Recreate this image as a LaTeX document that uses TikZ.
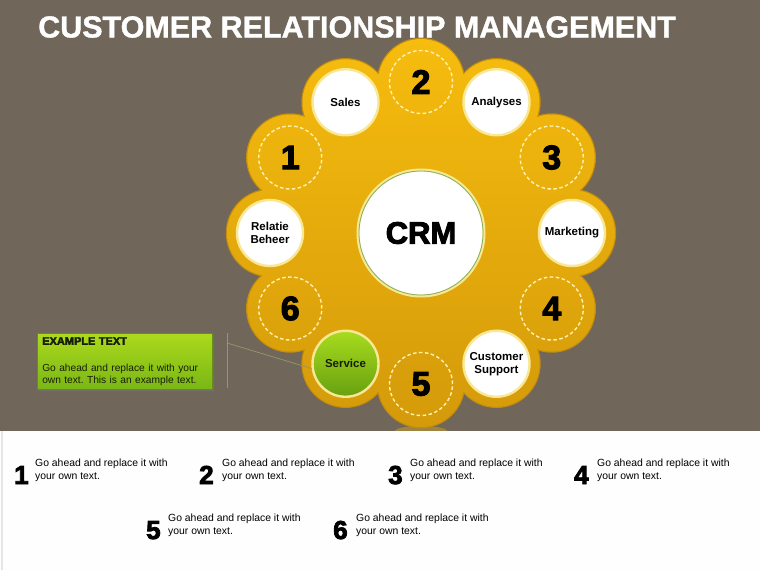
\documentclass[tikz,border=0pt]{standalone}
\usepackage{fontspec}
\setmainfont{Liberation Sans}
\newfontfamily\heavyfont{Liberation Sans Bold}[FakeBold=3]
\newfontfamily\titlefont{Liberation Sans Bold}[FakeBold=1.2]
\frenchspacing
\usetikzlibrary{positioning,calc,shadows}
\definecolor{bgbrown}{RGB}{112,102,90}
\definecolor{goldtop}{RGB}{246,188,14}
\definecolor{goldbot}{RGB}{212,154,10}
\definecolor{goldedge}{RGB}{196,140,14}
\definecolor{ringyel}{RGB}{248,232,150}
\definecolor{dashyel}{RGB}{255,242,175}
\definecolor{crmgreen}{RGB}{130,175,90}
\definecolor{leaftop}{RGB}{168,220,30}
\definecolor{leafbot}{RGB}{104,160,16}
\definecolor{boxtop}{RGB}{172,218,28}
\definecolor{boxbot}{RGB}{122,182,22}
\definecolor{boxedge}{RGB}{100,142,22}
\definecolor{calloutln}{RGB}{150,152,105}
\definecolor{inkdark}{RGB}{22,30,6}
\tikzset{
  topicnode/.style={circle, minimum size=66pt, inner sep=0pt, fill=white, draw=ringyel,
    line width=2.4pt, align=center, font=\bfseries\fontsize{11.5}{13}\selectfont},
  servicenode/.style={topicnode, top color=leaftop, bottom color=leafbot, text=inkdark},
  stepnum/.style={circle, minimum size=63pt, inner sep=0pt, draw=dashyel, line width=1.4pt,
    dash pattern=on 3.5pt off 2.5pt, font=\heavyfont\fontsize{34}{34}\selectfont},
  crmdisk/.style={circle, minimum size=126pt, inner sep=0pt, fill=white, draw=ringyel,
    line width=3pt, font=\heavyfont\fontsize{31}{31}\selectfont},
  itemnum/.style={anchor=base west, inner sep=0pt, font=\heavyfont\fontsize{26}{26}\selectfont},
  itemtxt/.style={anchor=north west, inner sep=0pt, align=left, font=\fontsize{10.4}{13}\selectfont},
  calloutbox/.style={anchor=north west, top color=boxtop, bottom color=boxbot, draw=boxedge,
    line width=0.5pt, text width=165pt, inner xsep=5pt, inner ysep=4pt, align=left, text=inkdark,
    font=\fontsize{10.2}{12}\selectfont, drop shadow={shadow xshift=1.5pt, shadow yshift=-1.5pt, opacity=0.35}},
  calloutln/.style={draw=calloutln, line width=0.7pt},
}

\begin{document}
\begin{tikzpicture}[x=1pt, y=1pt]
    \useasboundingbox (0,0) rectangle (760,-570);
    \fill[bgbrown] (0,0) rectangle (760,-570);
    % header
    \node[anchor=west, inner sep=0pt, text=white, font=\titlefont\fontsize{30.5}{32}\selectfont] (title) at (38,-27) {CUSTOMER RELATIONSHIP MANAGEMENT};
    % flower
    \coordinate (hub) at (421,-233);
    \fill[goldtop, opacity=0.35] (421,-431) ellipse (26 and 5);
    \begin{scope}[shift={(hub)}]
      \path[draw=goldedge, line width=2.4pt] (0,0) circle (146) foreach \a in {0,30,...,330} {(\a:151) circle (43)};
      \path[top color=goldtop, bottom color=goldbot] (0,0) circle (146) foreach \a in {0,30,...,330} {(\a:151) circle (43)};
    \end{scope}
    \node[crmdisk] (crm) at (hub) {CRM};
    \draw[crmgreen, line width=0.8pt] (crm.center) circle (62);
    % topics
    \foreach \a/\nm/\txt in {120/sales/Sales, 60/analyses/Analyses, 0/marketing/Marketing,
      -60/support/{Customer\\Support}, 180/relatie/{Relatie\\Beheer}}
      \node[topicnode] (\nm) at ($(hub)+(\a:151)$) {\txt};
    \node[servicenode] (service) at ($(hub)+(-120:151)$) {Service};
    % steps
    \foreach \a/\k in {150/1, 90/2, 30/3, -30/4, -90/5, -150/6}
      \node[stepnum] (s\k) at ($(hub)+(\a:151)$) {\k};
    % callout
    \node[calloutbox] (note) at (37,-333) {{\heavyfont\fontsize{11}{12}\selectfont EXAMPLE TEXT}\\[14.5pt]
      Go ahead and replace it with your\\own text. This is an example text.};
    \coordinate (calltop) at (227,-333);
    \coordinate (callbot) at (227,-388);
    \coordinate (callpin) at (227,-343);
    \draw[calloutln] (calltop) -- (callbot);
    \draw[calloutln] (callpin) -- (service.188);
    % bottom panel
    \fill[white!99!gray] (0,-431) rectangle (760,-570);
    \draw[gray!20, line width=1.5pt] (2,-431) -- (2,-570);
    \foreach \k/\nx/\tx/\ty in {1/14/35/459, 2/199/222/459, 3/388/410/459, 4/574/597/459,
      5/146/168/514, 6/333/356/514} {
      \node[itemnum] (n\k) at (\nx,-\ty-25) {\k};
      \node[itemtxt] (t\k) at (\tx,-\ty) {Go ahead and replace it with\\your own text.};
    }
\end{tikzpicture}
\end{document}
